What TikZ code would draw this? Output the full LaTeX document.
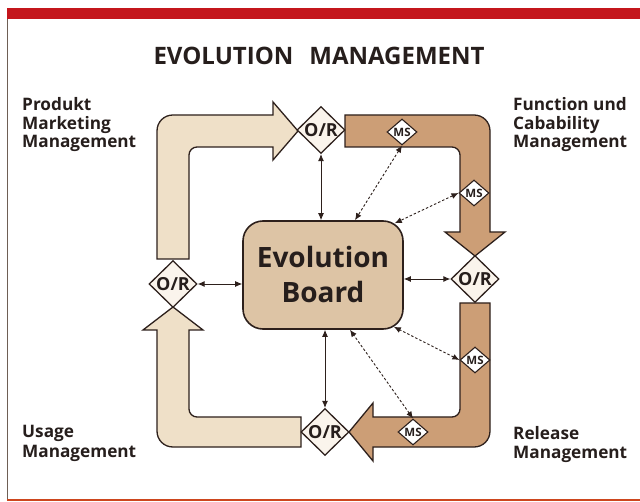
\documentclass[tikz,border=0pt]{standalone}
\usepackage{fontspec}
\setmainfont{Open Sans}
\usetikzlibrary{shapes.geometric,arrows.meta,calc}
\definecolor{lightfill}{RGB}{239,224,200}
\definecolor{darkfill}{RGB}{204,158,118}
\definecolor{boardfill}{RGB}{221,196,165}
\definecolor{orfill}{RGB}{250,244,236}
\definecolor{outline}{RGB}{45,32,28}
\definecolor{txt}{RGB}{38,30,28}
\definecolor{redbar}{RGB}{196,22,28}
\definecolor{bottomred}{RGB}{205,70,30}
\definecolor{frame}{RGB}{110,95,85}
\begin{document}
\begin{tikzpicture}[x=1pt,y=-1pt,
  bigarrow/.style={draw=outline, line width=1.3pt, line join=miter},
  ordia/.style={diamond, draw=outline, line width=1.3pt, fill=orfill,
    minimum width=48pt, minimum height=46pt, inner sep=0pt,
    font=\bfseries\fontsize{18}{18}\selectfont, text=txt},
  msdia/.style={diamond, draw=outline, line width=1.1pt, fill=white,
    minimum width=30pt, minimum height=26pt, inner sep=0pt,
    font=\bfseries\fontsize{11.5}{11.5}\selectfont, text=txt},
  boardbox/.style={draw=outline, line width=1.6pt, fill=boardfill,
    rounded corners=20pt, minimum width=160pt, minimum height=108pt,
    align=center, font=\bfseries\fontsize{28}{35}\selectfont, text=txt},
  link/.style={{Latex[length=7pt,width=6pt]}-{Latex[length=7pt,width=6pt]},
    line width=0.9pt, draw=outline},
  dlink/.style={link, dash pattern=on 2.5pt off 2pt},
  lbl/.style={anchor=base west, inner sep=0pt,
    font=\bfseries\fontsize{17.2}{17.2}\selectfont, text=txt},
  ttl/.style={anchor=base, inner sep=0pt,
    font=\bfseries\fontsize{24}{24}\selectfont, text=txt}
]
\useasboundingbox (0,0) rectangle (640,502);
\fill[white] (0,0) rectangle (640,502);
% frame
\fill[redbar] (7,8) rectangle (640,19);
\draw[frame, line width=0.8pt] (7,19) -- (7,500);
\draw[bottomred, line width=2pt] (7,500) -- (640,500);

% title
\node[ttl] (title) at (319,65) {EVOLUTION\hspace{16pt}MANAGEMENT};

% Produkt arrow (light)
\draw[bigarrow, fill=lightfill]
  (157,259) -- (157,131) .. controls (157,122) and (164,115) .. (173,115)
  -- (273,115) -- (273,102) -- (298,131) -- (273,160) -- (273,147)
  -- (197,147) .. controls (192.6,147) and (189,150.6) .. (189,155)
  -- (189,259) -- cycle;
% Function arrow (dark)
\draw[bigarrow, fill=darkfill]
  (345,115) -- (474,115) .. controls (483,115) and (490,122) .. (490,131)
  -- (490,232) -- (505,232) -- (475,256) -- (445,232) -- (460,232)
  -- (460,155) .. controls (460,150.6) and (456.4,147) .. (452,147)
  -- (345,147) -- cycle;
% Release arrow (dark)
\draw[bigarrow, fill=darkfill]
  (460,303) -- (490,303) -- (490,431) .. controls (490,440) and (483,447) .. (474,447)
  -- (373,447) -- (373,461) -- (349,432) -- (373,403) -- (373,417)
  -- (452,417) .. controls (456.4,417) and (460,413.4) .. (460,409) -- cycle;
% Usage arrow (light)
\draw[bigarrow, fill=lightfill]
  (301,417) -- (301,447) -- (173,447) .. controls (164,447) and (157,440) .. (157,431)
  -- (157,330) -- (143,330) -- (173,307) -- (203,330) -- (189,330)
  -- (189,409) .. controls (189,413.4) and (192.6,417) .. (197,417) -- cycle;

% board
\node[boardbox] (board) at (323,275) {Evolution\\Board};

% diamonds
\node[ordia] (tor) at (321,130) {O/R};
\node[ordia] (lor) at (173,284) {O/R};
\node[ordia] (ror) at (475,279) {O/R};
\node[ordia] (bor) at (325,432) {O/R};
\node[msdia] (ms1) at (402,132) {MS};
\node[msdia] (ms2) at (474,193) {MS};
\node[msdia] (ms3) at (475,360) {MS};
\node[msdia] (ms4) at (413,432) {MS};

% solid links
\draw[link] (tor.south) -- (tor.south |- board.north);
\draw[link] (lor.east) -- (lor.east -| board.west);
\draw[link] (ror.west) -- (ror.west -| board.east);
\draw[link] (bor.north) -- (bor.north |- board.south);
% dotted links
\draw[dlink] (ms1.south) -- ($(board.north)+(32,0)$);
\draw[dlink] (ms2.west) -- ($(board.north east)+(-9,3)$);
\draw[dlink] (ms3.west) -- ($(board.south east)+(-10,-3)$);
\draw[dlink] (ms4.north) -- ($(board.south)+(27,0)$);

% labels
\node[lbl] (p1) at (22,111) {Produkt};
\node[lbl] (p2) at (22,129.5) {Marketing};
\node[lbl] (p3) at (22,148) {Management};
\node[lbl] (f1) at (513,111) {Function und};
\node[lbl] (f2) at (513,129.5) {Cabability};
\node[lbl] (f3) at (513,148) {Management};
\node[lbl] (u1) at (22,438) {Usage};
\node[lbl] (u2) at (22,457) {Management};
\node[lbl] (r1) at (513,439) {Release};
\node[lbl] (r2) at (513,458) {Management};
\end{tikzpicture}
\end{document}
